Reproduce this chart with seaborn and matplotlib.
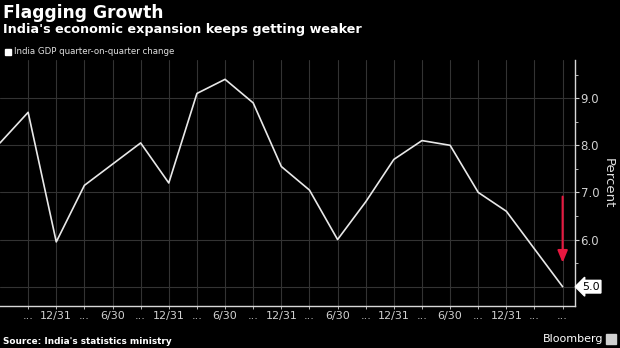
import matplotlib
matplotlib.use("Agg")
import matplotlib.pyplot as plt
import seaborn as sns
import pandas as pd
import numpy as np

# Data (India GDP quarter-on-quarter change, percent)
quarter_index = list(range(21))
gdp_values = [8.05, 8.7, 5.95, 7.15, 7.6, 8.05, 7.2, 9.1, 9.4, 8.9, 7.55,
              7.05, 6.0, 6.8, 7.7, 8.1, 8.0, 7.0, 6.6, 5.8, 5.0]
tick_positions = list(range(1, 21))
tick_labels = ["...", "12/31", "...", "6/30", "...", "12/31", "...", "6/30",
               "...", "12/31", "...", "6/30", "...", "12/31", "...", "6/30",
               "...", "12/31", "...", "..."]
y_ticks = [5.0, 6.0, 7.0, 8.0, 9.0]
y_tick_labels = ["", "6.0", "7.0", "8.0", "9.0"]
y_minor = [5.5, 6.5, 7.5, 8.5, 9.5]

sns.set_theme(style="dark")
plt.rcParams["font.family"] = ["DejaVu Sans"]

df = pd.DataFrame({"q": quarter_index, "gdp": gdp_values})

fig = plt.figure(figsize=(6.2, 3.48), dpi=100, facecolor="black")
ax = fig.add_axes([0.0, 1 - 306 / 348, 575 / 620, (306 - 60) / 348])
ax.set_facecolor("black")

sns.lineplot(data=df, x="q", y="gdp", ax=ax, color="#e8e8e8", linewidth=1.2)

ax.set_xlim(0, 20.44)
ax.set_ylim(4.59, 9.81)

ax.set_xticks(tick_positions)
ax.set_xticklabels(tick_labels)
ax.set_yticks(y_ticks)
ax.set_yticklabels(y_tick_labels)
ax.set_yticks(y_minor, minor=True)

ax.yaxis.tick_right()
ax.yaxis.set_label_position("right")
ax.set_xlabel("")
ax.set_ylabel("Percent", color="#e0e0e0", fontsize=9.5, rotation=270,
              labelpad=11)

ax.grid(True, which="major", color="#333333", linewidth=0.8)
ax.tick_params(axis="x", colors="#d0d0d0", labelsize=8, length=2,
               width=0.6, pad=1.5, direction="out", bottom=True)
ax.tick_params(axis="y", which="major", colors="#d0d0d0", labelsize=8.5,
               length=3, width=0.8, pad=1, right=True, left=False)
ax.tick_params(axis="y", which="minor", colors="#d0d0d0", length=2,
               width=0.6, right=True, left=False)

for side in ["top", "left"]:
    ax.spines[side].set_visible(False)
for side in ["right", "bottom"]:
    ax.spines[side].set_visible(True)
    ax.spines[side].set_color("#d8d8d8")
    ax.spines[side].set_linewidth(1.0)

# Red arrow
ax.annotate("", xy=(20, 5.45), xytext=(20, 6.97),
            arrowprops=dict(arrowstyle="-|>,head_length=0.6,head_width=0.25",
                            color="#e8173f", lw=1.5))

# Last value callout
ax.annotate(f"{gdp_values[-1]:.1f}", xy=(1.0, gdp_values[-1]),
            xycoords=("axes fraction", "data"), xytext=(5, 0),
            textcoords="offset points", va="center", ha="left",
            fontsize=8, color="black",
            bbox=dict(boxstyle="larrow,pad=0.12", fc="white", ec="white"),
            annotation_clip=False)

# Titles and legend
fig.text(3 / 620, 1 - 4 / 348, "Flagging Growth", color="white",
         fontsize=12.3, fontweight="bold", va="top", ha="left")
fig.text(3 / 620, 1 - 23 / 348, "India's economic expansion keeps getting weaker",
         color="white", fontsize=9.2, fontweight="bold", va="top", ha="left")
fig.patches.append(plt.Rectangle((5 / 620, 1 - 55 / 348), 6 / 620, 6 / 348,
                                 transform=fig.transFigure, color="white"))
fig.text(14 / 620, 1 - 51.5 / 348, "India GDP quarter-on-quarter change",
         color="#e0e0e0", fontsize=6.2, va="center", ha="left")

# Footer
fig.text(3 / 620, 1 - 341 / 348, "Source: India's statistics ministry",
         color="white", fontsize=6.4, fontweight="bold", va="center", ha="left")
fig.text(603 / 620, 1 - 339 / 348, "Bloomberg", color="white", fontsize=8,
         va="center", ha="right")
fig.patches.append(plt.Rectangle((606 / 620, 1 - 344 / 348), 10 / 620, 10 / 348,
                                 transform=fig.transFigure, color="#d0d0d0"))

fig.savefig("out.png", dpi=100, facecolor="black")
